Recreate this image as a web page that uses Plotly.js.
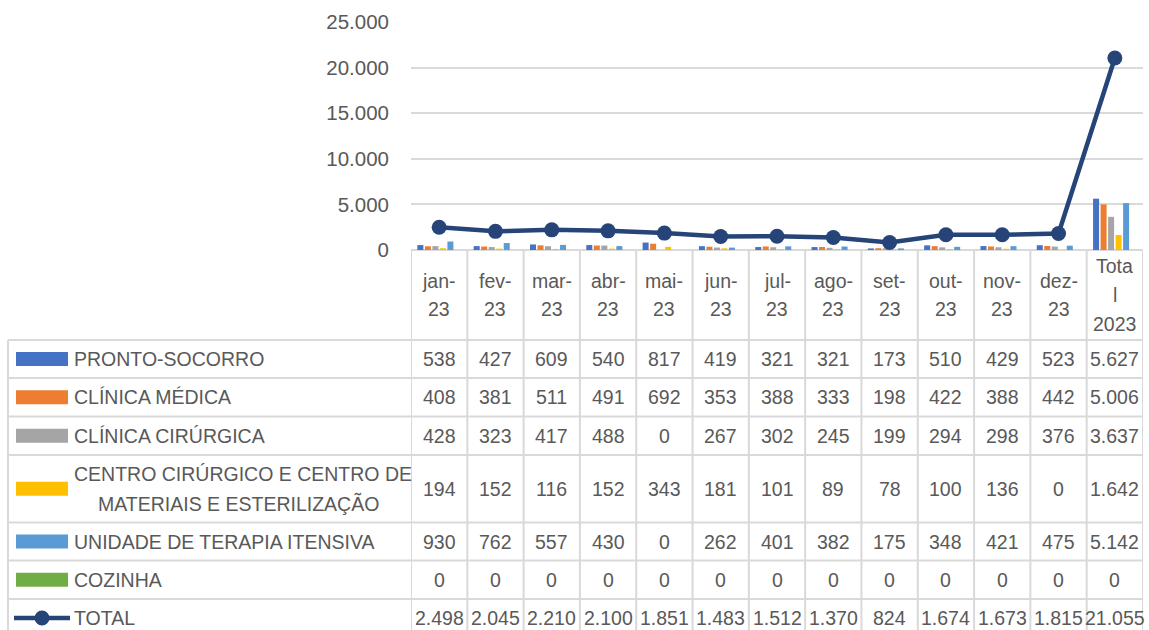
<!DOCTYPE html>
<html>
<head>
<meta charset="utf-8">
<script src="https://cdn.plot.ly/plotly-3.0.1.min.js"></script>
<style>html,body{margin:0;padding:0;background:#fff;}#chart{width:1149px;height:630px;}</style>
</head>
<body>
<div id="chart"></div>
<script>
// ---- data ----
const categories = ['jan-23','fev-23','mar-23','abr-23','mai-23','jun-23','jul-23','ago-23','set-23','out-23','nov-23','dez-23','Total 2023'];
const headerLabels = ['jan-<br>23','fev-<br>23','mar-<br>23','abr-<br>23','mai-<br>23','jun-<br>23','jul-<br>23','ago-<br>23','set-<br>23','out-<br>23','nov-<br>23','dez-<br>23','Tota<br>l<br>2023'];
const seriesNames = ['PRONTO-SOCORRO','CLÍNICA MÉDICA','CLÍNICA CIRÚRGICA','CENTRO CIRÚRGICO E CENTRO DE<br>MATERIAIS E ESTERILIZAÇÃO','UNIDADE DE TERAPIA ITENSIVA','COZINHA'];
const prontoSocorro = [538,427,609,540,817,419,321,321,173,510,429,523,5627];
const clinicaMedica = [408,381,511,491,692,353,388,333,198,422,388,442,5006];
const clinicaCirurgica = [428,323,417,488,0,267,302,245,199,294,298,376,3637];
const centroCirurgico = [194,152,116,152,343,181,101,89,78,100,136,0,1642];
const uti = [930,762,557,430,0,262,401,382,175,348,421,475,5142];
const cozinha = [0,0,0,0,0,0,0,0,0,0,0,0,0];
const totalName = 'TOTAL';
const total = [2498,2045,2210,2100,1851,1483,1512,1370,824,1674,1673,1815,21055];
const yTicks = [0,5000,10000,15000,20000,25000];

// ---- styles ----
const seriesValues = [prontoSocorro, clinicaMedica, clinicaCirurgica, centroCirurgico, uti, cozinha];
const colors = ['#4472C4','#ED7D31','#A5A5A5','#FFC000','#5B9BD5','#70AD47'];
const lineColor = '#264478';
const textColor = '#595959';
const gridColor = '#D9D9D9';
const FONT = '"Liberation Sans", Arial, sans-serif';
const FS = 19.5;
const LINE_H = 29;

const W = 1149, H = 630;
const L = 411, R = 6, T = 22, B = 380;
const plotW = W - L - R, plotH = H - T - B;
const px2paperX = px => (px - L) / plotW;
const py2paperY = py => (H - B - py) / plotH;

const fmt = n => String(n).replace(/\B(?=(\d{3})+(?!\d))/g, '.');

const traces = seriesValues.map((vals, i) => ({
  type: 'bar', name: seriesNames[i], x: categories, y: vals,
  marker: {color: colors[i]}
}));
traces.push({
  type: 'scatter', mode: 'lines+markers', name: totalName, x: categories, y: total,
  line: {color: lineColor, width: 4.5}, marker: {color: lineColor, size: 15}
});

// table geometry (pixels)
const headerTop = H - B;
const rowEdges = [340, 378, 416.5, 455, 522.5, 560.5, 599, 637];
const tableLeft = 8;

const shapes = [];
const annotations = [];
const lineStyle = {color: gridColor, width: 2};
const txt = (extra) => Object.assign({showarrow:false, font:{family:FONT, size:FS, color:textColor}}, extra);

// top line of table
shapes.push({type:'line', xref:'paper', yref:'paper', x0:0, x1:1, y0:0, y1:0, line:lineStyle, layer:'below'});
// vertical lines at category boundaries
for (let i = 0; i <= categories.length; i++) {
  shapes.push({type:'line', xref:'x', yref:'paper', x0:i-0.5, x1:i-0.5, y0:0, y1:py2paperY(H+10), line:lineStyle});
}
// left border
shapes.push({type:'line', xref:'paper', yref:'paper', x0:px2paperX(tableLeft), x1:px2paperX(tableLeft), y0:py2paperY(rowEdges[0]), y1:py2paperY(H+10), line:lineStyle});
// horizontal lines
rowEdges.forEach(py => {
  shapes.push({type:'line', xref:'paper', yref:'paper', x0:px2paperX(tableLeft), x1:1, y0:py2paperY(py), y1:py2paperY(py), line:lineStyle});
});

// header labels, one annotation per line so the line spacing matches
const headerMid = (headerTop + rowEdges[0]) / 2;
categories.forEach((c, i) => {
  const parts = headerLabels[i].split('<br>');
  parts.forEach((p, k) => {
    const cy = headerMid + (k - (parts.length - 1) / 2) * LINE_H;
    annotations.push(txt({xref:'x', yref:'paper', x:c, y:py2paperY(cy), text:p, xanchor:'center', yanchor:'middle'}));
  });
});

// rows
const allRows = seriesValues.concat([total]);
const allNames = seriesNames.concat([totalName]);
allRows.forEach((vals, r) => {
  const cy = (rowEdges[r] + rowEdges[r+1]) / 2;
  // legend key
  if (r < seriesValues.length) {
    shapes.push({type:'rect', xref:'paper', yref:'paper', x0:px2paperX(16), x1:px2paperX(68),
      y0:py2paperY(cy - 7), y1:py2paperY(cy + 7), fillcolor:colors[r], line:{width:0}});
  } else {
    shapes.push({type:'line', xref:'paper', yref:'paper', x0:px2paperX(14), x1:px2paperX(70),
      y0:py2paperY(cy), y1:py2paperY(cy), line:{color:lineColor, width:4.5}});
    shapes.push({type:'circle', xref:'paper', yref:'paper', x0:px2paperX(34.5), x1:px2paperX(49.5),
      y0:py2paperY(cy - 7.5), y1:py2paperY(cy + 7.5), fillcolor:lineColor, line:{width:0}});
  }
  const parts = allNames[r].split('<br>');
  if (parts.length === 1) {
    annotations.push(txt({xref:'paper', yref:'paper', x:px2paperX(72), y:py2paperY(cy), text:parts[0], xanchor:'left', yanchor:'middle'}));
  } else {
    annotations.push(txt({xref:'paper', yref:'paper', x:px2paperX(72), y:py2paperY(cy - LINE_H/2), text:parts[0], xanchor:'left', yanchor:'middle'}));
    annotations.push(txt({xref:'paper', yref:'paper', x:px2paperX(238), y:py2paperY(cy + LINE_H/2), text:parts[1], xanchor:'center', yanchor:'middle'}));
  }
  vals.forEach((v, i) => {
    annotations.push(txt({xref:'x', yref:'paper', x:categories[i], y:py2paperY(cy), text:fmt(v), xanchor:'center', yanchor:'middle'}));
  });
});

const layout = {
  width: W, height: H,
  margin: {l:L, r:R, t:T, b:B, pad:0},
  paper_bgcolor:'#fff', plot_bgcolor:'#fff',
  showlegend:false, hovermode:false,
  separators: ',.',
  barmode:'group', bargap:0.2, bargroupgap:0.2,
  font:{family:FONT, size:FS, color:textColor},
  xaxis:{type:'category', range:[-0.5, categories.length - 0.5], showticklabels:false, showgrid:false, zeroline:false, showline:false, ticks:''},
  yaxis:{range:[0,25000], tickvals:yTicks, tickformat:',', showgrid:true, gridcolor:gridColor, gridwidth:2,
    zeroline:false, showline:false, ticks:'', ticklabelstandoff:21,
    tickfont:{family:FONT, size:20.5, color:textColor}},
  shapes: shapes,
  annotations: annotations
};

Plotly.newPlot('chart', traces, layout, {staticPlot:true, displayModeBar:false});
</script>
</body>
</html>
